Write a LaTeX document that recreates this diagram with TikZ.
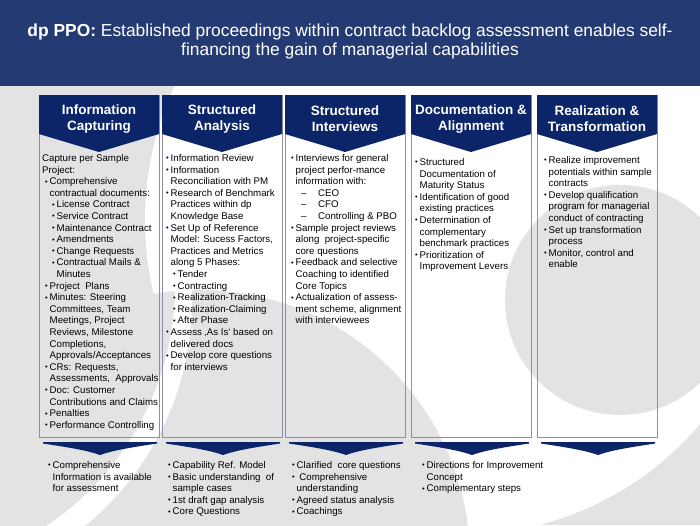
\documentclass[tikz,border=0pt]{standalone}
\usepackage{fontspec}
\setmainfont{Liberation Sans}
\definecolor{bggray}{HTML}{E3E3E3}
\definecolor{hdrblue}{HTML}{243A72}
\definecolor{navy}{HTML}{0C2468}
\definecolor{boxline}{HTML}{8F8DAA}
\newcommand{\bul}{\makebox[0pt][l]{\fontsize{7.5}{7.5}\selectfont\raisebox{0.6pt}{•}}}
\newcommand{\Ba}[1]{\hspace*{3pt}\bul\hspace*{4.5pt}#1\\}
\newcommand{\Ca}[1]{\hspace*{7.5pt}#1\\}
\newcommand{\Bb}[1]{\hspace*{10pt}\bul\hspace*{4.5pt}#1\\}
\newcommand{\Cb}[1]{\hspace*{14.5pt}#1\\}
\newcommand{\Dd}[1]{\hspace*{13pt}\makebox[17pt][l]{–}#1\\}
\newcommand{\Ln}[1]{#1\\}
\tikzset{
  colhead/.style={fill=navy,draw=none},
  colbox/.style={draw=boxline,line width=0.7pt},
  headtxt/.style={text=white,font=\fontsize{13.5}{16}\selectfont\bfseries,align=center,inner sep=0pt},
  bodytxt/.style={anchor=base west,inner sep=0pt,font=\fontsize{9.7}{11.6}\selectfont},
}
\begin{document}
\begin{tikzpicture}[x=1pt,y=-1pt]
\useasboundingbox (0,0) rectangle (700,525);
% background
\fill[bggray] (0,0) rectangle (700,525);
\begin{scope}
\clip (0,86) rectangle (700,525);
\fill[white] (460,220) circle[radius=315];
\fill[bggray] (620,300) circle[radius=115];
\fill[bggray] (200,560) circle[radius=270];
\begin{scope}
\clip (200,560) circle[radius=270];
\fill[white,even odd rule] (-100,300) circle[radius=292] (-115,285) circle[radius=290];
\end{scope}
\end{scope}
% header band
\fill[hdrblue] (0,0) rectangle (700,86);
\node[text=white,font=\fontsize{17.4}{19}\selectfont,align=center,inner sep=0pt] (title) at (350,41)
 {\textbf{dp PPO:} Established proceedings within contract backlog assessment enables self-\\financing the gain of managerial capabilities};
% columns
\foreach \i/\x in {1/39,2/162,3/285,4/411,5/537}{
  \draw[colbox] (\x,95) rectangle ++(120,342);
  \fill[colhead] (\x,95) -- ++(120,0) -- ++(0,39) -- ++(-60,18) -- ++(-60,-18) -- cycle;
  \fill[navy] (\x+4,442) -- ++(114,0) -- ++(0,1.5)
     .. controls (\x+95,447) and (\x+75,450) .. (\x+61,455)
     .. controls (\x+47,450) and (\x+27,447) .. (\x+4,443.5) -- cycle;
}
\node[headtxt] (h1) at (99,119) {Information\\Capturing};
\node[headtxt] (h2) at (222,119) {Structured\\Analysis};
\node[headtxt] (h3) at (345,119) {Structured\\Interviews};
\node[headtxt] (h4) at (471,119) {Documentation \&\\Alignment};
\node[headtxt] (h5) at (597,118.5) {Realization \&\\Transformation};
% bodies
\node[bodytxt] (b1) at (42,161.5) {\parbox[t]{130pt}{%
\Ln{Capture per Sample}
\Ln{Project:}
\Ba{Comprehensive}
\Ca{contractual documents:}
\Bb{License Contract}
\Bb{Service Contract}
\Bb{Maintenance Contract}
\Bb{Amendments}
\Bb{Change Requests}
\Bb{Contractual Mails \&}
\Cb{Minutes}
\Ba{Project\ \ Plans}
\Ba{Minutes: Steering}
\Ca{Committees, Team}
\Ca{Meetings, Project}
\Ca{Reviews, Milestone}
\Ca{Completions,}
\Ca{Approvals/Acceptances}
\Ba{CRs: Requests,}
\Ca{Assessments,\ \ Approvals}
\Ba{Doc: Customer}
\Ca{Contributions and Claims}
\Ba{Penalties}
\Ba{Performance Controlling}}};
\node[bodytxt] (b2) at (163,161.5) {\parbox[t]{130pt}{%
\Ba{Information Review}
\Ba{Information}
\Ca{Reconciliation with PM}
\Ba{Research of Benchmark}
\Ca{Practices within dp}
\Ca{Knowledge Base}
\Ba{Set Up of Reference}
\Ca{Model: Sucess Factors,}
\Ca{Practices and Metrics}
\Ca{along 5 Phases:}
\Bb{Tender}
\Bb{Contracting}
\Bb{Realization-Tracking}
\Bb{Realization-Claiming}
\Bb{After Phase}
\Ba{Assess ‚As Is‘ based on}
\Ca{delivered docs}
\Ba{Develop core questions}
\Ca{for interviews}}};
\node[bodytxt] (b3) at (288,161.5) {\parbox[t]{130pt}{%
\Ba{Interviews for general}
\Ca{project perfor-mance}
\Ca{information with:}
\Dd{CEO}
\Dd{CFO}
\Dd{Controlling \& PBO}
\Ba{Sample project reviews}
\Ca{along\ \ project-specific}
\Ca{core questions}
\Ba{Feedback and selective}
\Ca{Coaching to identified}
\Ca{Core Topics}
\Ba{Actualization of assess-}
\Ca{ment scheme, alignment}
\Ca{with interviewees}}};
\node[bodytxt] (b4) at (412,165.5) {\parbox[t]{130pt}{%
\Ba{Structured}
\Ca{Documentation of}
\Ca{Maturity Status}
\Ba{Identification of good}
\Ca{existing practices}
\Ba{Determination of}
\Ca{complementary}
\Ca{benchmark practices}
\Ba{Prioritization of}
\Ca{Improvement Levers}}};
\node[bodytxt] (b5) at (541,163.5) {\parbox[t]{140pt}{%
\Ba{Realize improvement}
\Ca{potentials within sample}
\Ca{contracts}
\Ba{Develop qualification}
\Ca{program\ for managerial}
\Ca{conduct of contracting}
\Ba{Set up transformation}
\Ca{process}
\Ba{Monitor, control and}
\Ca{enable}}};
% results
\node[bodytxt] (r1) at (45,468.5) {\parbox[t]{130pt}{%
\Ba{Comprehensive}
\Ca{Information is available}
\Ca{for assessment}}};
\node[bodytxt] (r2) at (165,468.5) {\parbox[t]{130pt}{%
\Ba{Capability Ref. Model}
\Ba{Basic understanding\ \ of}
\Ca{sample cases}
\Ba{1st draft gap analysis}
\Ba{Core Questions}}};
\node[bodytxt] (r3) at (289,468.5) {\parbox[t]{130pt}{%
\Ba{Clarified\ \ core questions}
\Ba{\ Comprehensive}
\Ca{understanding}
\Ba{Agreed status analysis}
\Ba{Coachings}}};
\node[bodytxt] (r4) at (419,468.5) {\parbox[t]{150pt}{%
\Ba{Directions for Improvement}
\Ca{Concept}
\Ba{Complementary steps}}};
\end{tikzpicture}
\end{document}
